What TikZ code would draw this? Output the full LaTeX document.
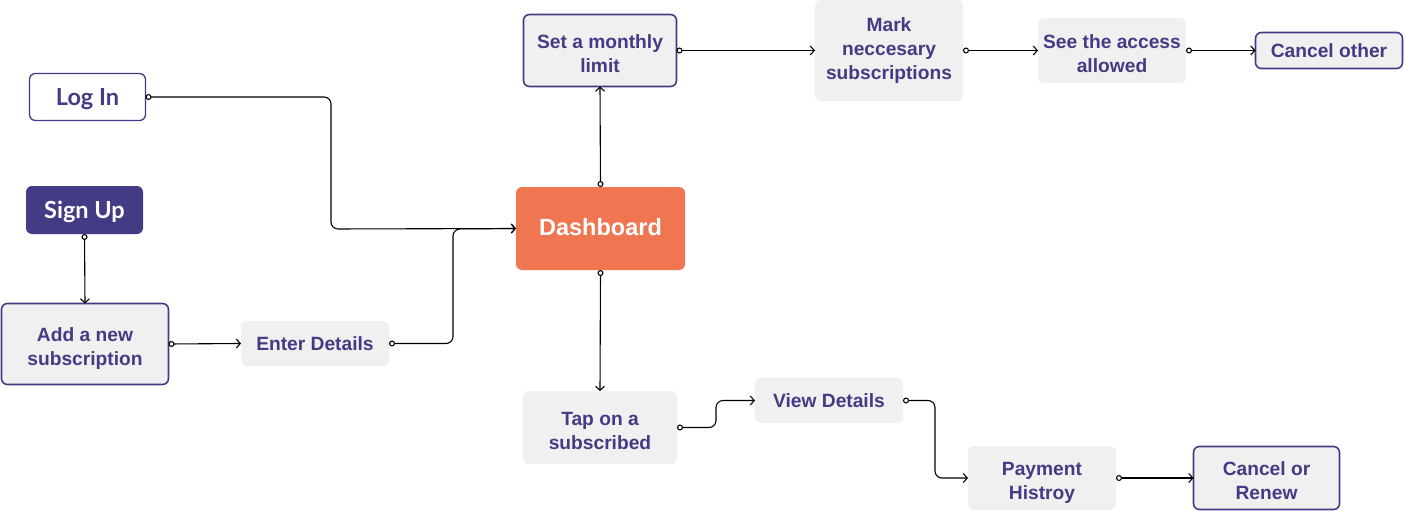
\documentclass[tikz,border=0pt]{standalone}
\usepackage{fontspec}
\setmainfont{Liberation Sans}
\newfontfamily\latofont{Lato}
\usetikzlibrary{arrows.meta}
\definecolor{ink}{HTML}{433B84}
\definecolor{paper}{HTML}{F0F0F0}
\definecolor{dash}{HTML}{EF7650}
% two lines, set a little lower in the box
\newcommand\lowtext[1]{\raisebox{-5pt}[\height][\depth]{\begin{tabular}{@{}c@{}}#1\end{tabular}}}
\begin{document}
\begin{tikzpicture}[x=1pt, y=-1pt,
  box/.style={rounded corners=6pt, fill=paper, text=ink, align=center, inner sep=0pt, outer sep=0pt,
    font=\bfseries\fontsize{19.2}{24}\selectfont},
  keybox/.style={box, draw=ink, line width=1.6pt},
  entry/.style={font=\latofont\bfseries\fontsize{23.5}{28}\selectfont, text depth=-3pt},
  flow/.style={line width=1.1pt, rounded corners=7pt,
    {Circle[open, fill=white, length=6pt, width=6pt]}-{Straight Barb[length=4pt, width=9pt, line width=1.1pt]}}]
  \useasboundingbox (0,0) rectangle (1405,511);
  % entry
  \node[keybox, entry, fill=white, line width=1.3pt, minimum width=116pt, minimum height=47pt] (login) at (87.5,97) {Log In};
  \node[box, entry, fill=ink, text=white, minimum width=117pt, minimum height=48pt] (signup) at (84.5,210) {Sign Up};
  \node[keybox, minimum width=167pt, minimum height=81pt] (addnew) at (85,344) {\lowtext{Add a new\\subscription}};
  \node[box, minimum width=148pt, minimum height=45pt] (enter) at (315,343.5) {Enter Details};
  \node[box, fill=dash, text=white, minimum width=169pt, minimum height=83pt, text depth=4pt,
    font=\bfseries\fontsize{23.5}{28}\selectfont] (dashboard) at (600.5,228.5) {Dashboard};
  % upper branch
  \node[keybox, minimum width=153pt, minimum height=72pt] (limit) at (600,50.5) {\lowtext{Set a monthly\\limit}};
  \node[box, minimum width=148pt, minimum height=101pt] (mark) at (889,50.5) {Mark\\neccesary\\subscriptions};
  \node[box, minimum width=148pt, minimum height=65pt] (access) at (1112,50.5) {\lowtext{See the access\\allowed}};
  \node[keybox, minimum width=147pt, minimum height=36pt] (other) at (1329,50.5) {Cancel other};
  % lower branch
  \node[box, minimum width=154pt, minimum height=73pt] (tap) at (600,427.5) {\lowtext{Tap on a\\subscribed}};
  \node[box, minimum width=148pt, minimum height=45pt] (view) at (829,400.5) {View Details};
  \node[box, minimum width=148pt, minimum height=64pt] (payment) at (1042,478) {\lowtext{Payment\\Histroy}};
  \node[keybox, minimum width=146pt, minimum height=63pt] (renew) at (1266.5,478) {\lowtext{Cancel or\\Renew}};
  % connectors
  \draw[flow] (login.east) -- (331,97) -- (331,229) -- (dashboard.west);
  \draw[flow] (signup.south) -- (addnew.north);
  \draw[flow] (addnew.east) -- (enter.west);
  \draw[flow] (enter.east) -- (453,343.5) -- (453,229) -- (dashboard.west);
  \draw[flow] (dashboard.north) -- (limit.south);
  \draw[flow] (limit.east) -- (mark.west);
  \draw[flow] (mark.east) -- (access.west);
  \draw[flow] (access.east) -- (other.west);
  \draw[flow] (dashboard.south) -- (tap.north);
  \draw[flow] (tap.east) -- (716,427.5) -- (716,400.5) -- (view.west);
  \draw[flow] (view.east) -- (935,400.5) -- (935,478) -- (payment.west);
  \draw[flow] (payment.east) -- (renew.west);
\end{tikzpicture}
\end{document}
